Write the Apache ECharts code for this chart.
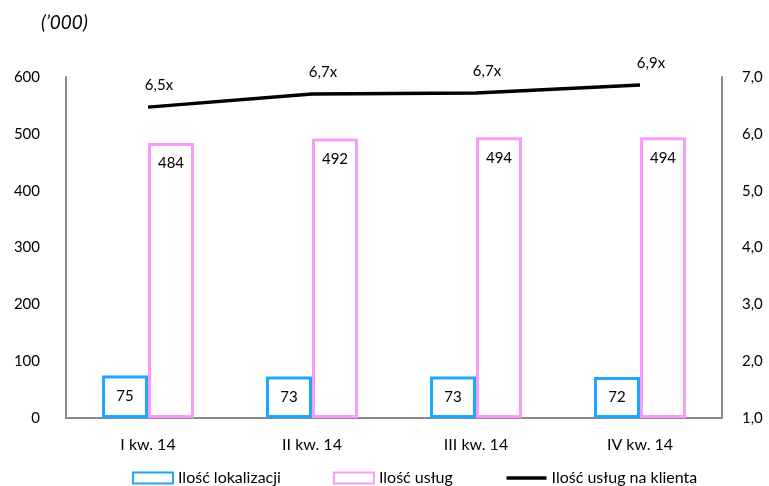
<!DOCTYPE html>
<html>
<head>
<meta charset="utf-8">
<script src="https://cdn.jsdelivr.net/npm/echarts@6/dist/echarts.min.js"></script>
<style>
  html, body { margin: 0; padding: 0; background: #ffffff; }
  #chart { width: 769px; height: 486px; }
</style>
</head>
<body>
<div id="chart"></div>
<script>
// Quarterly figures ('000)
const quarters = ['I kw. 14', 'II kw. 14', 'III kw. 14', 'IV kw. 14'];
const locations = [75, 73, 73, 72];           // Ilość lokalizacji
const services = [484, 492, 494, 494];        // Ilość usług
const servicesPerClient = [6.47, 6.70, 6.72, 6.86]; // Ilość usług na klienta

const seriesNames = ['Ilość lokalizacji', 'Ilość usług', 'Ilość usług na klienta'];
const unitLabel = '(’000)';

const FONT = 'Lato, "Liberation Sans", sans-serif';
const AXIS_GREY = '#898989';
const BLUE = '#1fa6ff';
const PINK = '#f99cf9';

const chart = echarts.init(document.getElementById('chart'), null, { renderer: 'canvas' });

const fmtComma = (v, digits) => v.toFixed(digits).replace('.', ',');

chart.setOption({
  animation: false,
  textStyle: { fontFamily: FONT, color: '#000' },
  title: {
    text: unitLabel,
    left: 36,
    top: 8,
    textStyle: { fontFamily: FONT, fontSize: 19, fontStyle: 'italic', fontWeight: 'normal', color: '#000' }
  },
  grid: { left: 66, right: 47, top: 77, bottom: 68, containLabel: false },
  legend: {
    left: 127,
    top: 465,
    itemWidth: 40,
    itemHeight: 11,
    itemGap: 52,
    textStyle: { fontFamily: FONT, fontSize: 16, color: '#000' },
    data: [
      { name: seriesNames[0], icon: 'rect' },
      { name: seriesNames[1], icon: 'rect' },
      {
        name: seriesNames[2],
        itemStyle: { opacity: 0 },
        lineStyle: { color: '#000', width: 3.5, opacity: 1 }
      }
    ]
  },
  xAxis: {
    type: 'category',
    data: quarters,
    axisLine: { lineStyle: { color: AXIS_GREY, width: 2 } },
    axisTick: { show: false },
    axisLabel: { fontFamily: FONT, fontSize: 16, color: '#000', margin: 19 },
    splitLine: { show: false }
  },
  yAxis: [
    {
      type: 'value',
      min: 0, max: 600, interval: 100,
      axisLine: { show: true, lineStyle: { color: AXIS_GREY, width: 2 } },
      axisTick: { show: false },
      splitLine: { show: false },
      axisLabel: { fontFamily: FONT, fontSize: 15, color: '#000', margin: 26 }
    },
    {
      type: 'value',
      min: 1, max: 7, interval: 1,
      position: 'right',
      axisLine: { show: true, lineStyle: { color: AXIS_GREY, width: 2 } },
      axisTick: { show: false },
      splitLine: { show: false },
      axisLabel: {
        fontFamily: FONT, fontSize: 15, color: '#000', margin: 20,
        formatter: v => fmtComma(v, 1)
      }
    }
  ],
  series: [
    {
      name: seriesNames[0],
      type: 'bar',
      data: locations,
      barWidth: 46,
      barGap: '0%',
      itemStyle: { color: '#ffffff', borderColor: BLUE, borderWidth: 3 },
      label: {
        show: true, position: 'insideTop', distance: 13,
        fontFamily: FONT, fontSize: 15, color: '#000'
      }
    },
    {
      name: seriesNames[1],
      type: 'bar',
      data: services,
      barWidth: 46,
      itemStyle: { color: '#ffffff', borderColor: PINK, borderWidth: 3 },
      label: {
        show: true, position: 'insideTop', distance: 13,
        fontFamily: FONT, fontSize: 15, color: '#000'
      }
    },
    {
      name: seriesNames[2],
      type: 'line',
      yAxisIndex: 1,
      data: servicesPerClient,
      symbol: 'circle',
      symbolSize: 0,
      showSymbol: true,
      lineStyle: { color: '#000', width: 3.5 },
      itemStyle: { color: '#000' },
      z: 5,
      label: {
        show: true, position: 'top', distance: 14, offset: [11, 0],
        fontFamily: FONT, fontSize: 15, color: '#000',
        formatter: p => fmtComma(p.value, 1) + 'x'
      }
    }
  ]
});
</script>
</body>
</html>
